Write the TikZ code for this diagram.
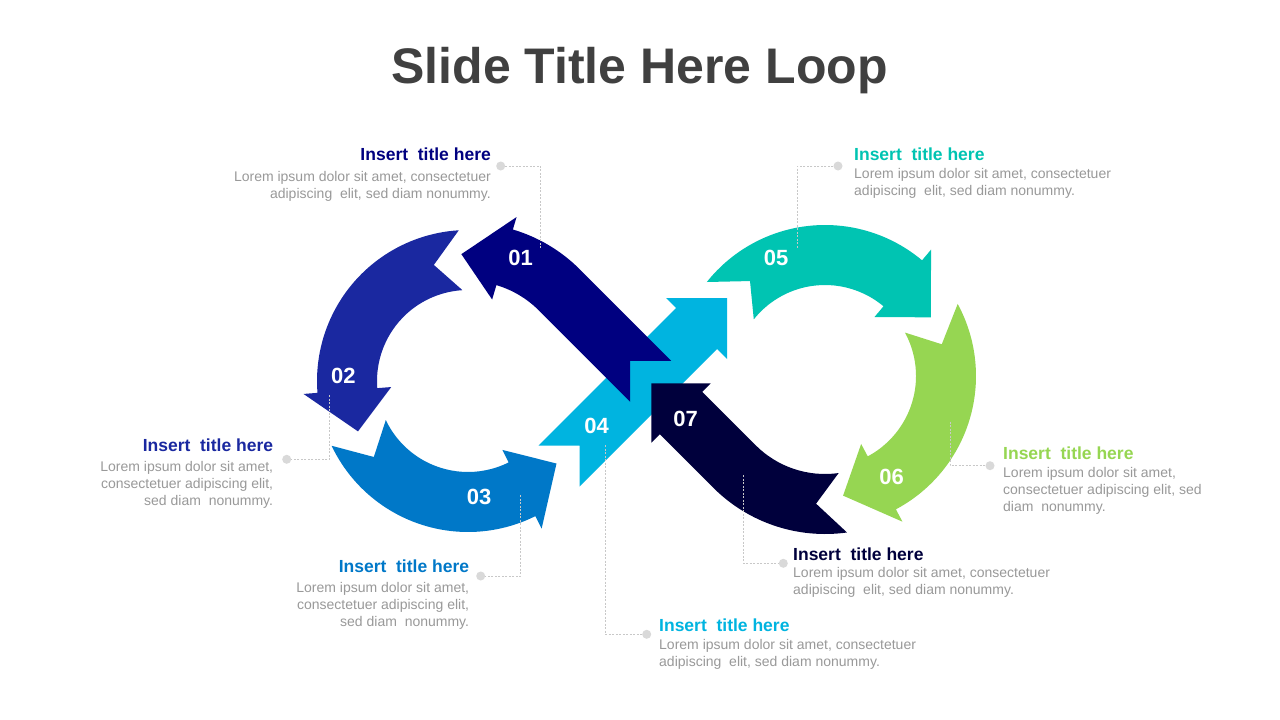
\documentclass[tikz,border=0pt]{standalone}
\usepackage{fontspec}
\setmainfont{Liberation Sans}
\definecolor{cA}{HTML}{000080}
\definecolor{cB}{HTML}{1A28A0}
\definecolor{cC}{HTML}{0078C8}
\definecolor{cD}{HTML}{00B4E0}
\definecolor{cE}{HTML}{00C4B2}
\definecolor{cF}{HTML}{96D652}
\definecolor{cG}{HTML}{00003C}
\definecolor{titlegray}{HTML}{404040}
\definecolor{bodygray}{HTML}{999999}
\definecolor{linegray}{HTML}{C8C8C8}
\definecolor{dotgray}{HTML}{D9D9D9}
% #1 colour, #2 r inner, #3 r outer, #4 tail angle, #5 notch angle, #6 head base angle, #7 tip angle
\newcommand{\ringarrow}[7]{%
  \pgfmathsetmacro\rmidval{(#2+#3)/2}%
  \pgfmathsetmacro\rbinval{#2-14}%
  \pgfmathsetmacro\rboutval{#3+14}%
  \fill[#1] (#4:#3) arc[start angle=#4, end angle=#6, radius=#3]
    -- (#6:\rboutval) -- (#7:\rmidval) -- (#6:\rbinval) -- (#6:#2)
    arc[start angle=#6, end angle=#4, radius=#2] -- (#5:\rmidval) -- cycle;
}
\tikzset{
  conn/.style={draw=linegray, line width=0.8pt, dash pattern=on 2pt off 1.5pt},
  dotn/.style={circle, fill=dotgray, inner sep=0pt, minimum size=9pt},
  numlbl/.style={text=white, inner sep=0pt, font=\fontsize{22}{22}\selectfont\bfseries},
  ttl/.style={inner sep=0pt, font=\fontsize{17.5}{20}\selectfont\bfseries},
  bodyr/.style={inner sep=0pt, text=bodygray, font=\fontsize{14}{16.6}\selectfont, align=right, anchor=north east},
  bodyl/.style={inner sep=0pt, text=bodygray, font=\fontsize{14}{16.6}\selectfont, align=left, anchor=north west},
}
\begin{document}
\begin{tikzpicture}[x=1pt,y=1pt]
\useasboundingbox (0,0) rectangle (1280,-720);
\fill[white] (0,0) rectangle (1280,-720);

% title
\node[anchor=base, inner sep=0pt, text=titlegray, font=\fontsize{50}{56}\selectfont\bfseries] (title) at (639.5,-83.5) {Slide Title Here Loop};

% 04 straight arrow (drawn first)
\fill[cD] (538.5,-445.5) -- (676,-308) -- (666,-298) -- (727,-298) -- (727,-359)
  -- (717,-349) -- (579.5,-486.5) -- (579.5,-445.5) -- cycle;

% left loop
\begin{scope}[shift={(468,-381)}]
  \ringarrow{cB}{91}{151}{93.5}{106.4}{184.5}{204.6}
  \ringarrow{cC}{91}{151}{205.4}{218.9}{296.5}{317}
  % 01
  \fill[cA] (203.22,20.22) -- (45:158) arc[start angle=45, end angle=73.5, radius=158]
    -- (73.5:171) -- (93:127) -- (73.5:85) -- (73.5:100)
    arc[start angle=73.5, end angle=45, radius=100] -- (162.21,-20.79) -- (162.22,20.22) -- cycle;
\end{scope}

% right loop
\begin{scope}[shift={(825,-376)}]
  \ringarrow{cE}{91}{151}{141.5}{128.3}{50}{29}
  \ringarrow{cF}{91}{151}{28.5}{15.2}{-62}{-81.4}
  % 07
  \fill[cG] (-82:158) arc[start angle=-82, end angle=-135, radius=158]
    -- (-165.22,-58.22) -- (-173.71,-66.71) -- (-173.71,-7.31) -- (-114.31,-7.31)
    -- (-122.80,-15.80) -- (-135:98) arc[start angle=-135, end angle=-82, radius=98]
    -- (-94:128) -- cycle;
\end{scope}

% number labels
\node[numlbl] (n01) at (520.5,-258.3) {01};
\node[numlbl] (n02) at (343.3,-375.7) {02};
\node[numlbl] (n03) at (479,-497.3) {03};
\node[numlbl] (n04) at (596.7,-426) {04};
\node[numlbl] (n05) at (776,-258.3) {05};
\node[numlbl] (n06) at (891.7,-476.7) {06};
\node[numlbl] (n07) at (685.7,-419.3) {07};

% connector ends and dots
\coordinate (e01) at (540.5,-248);
\coordinate (e02) at (329.3,-395);
\coordinate (e03) at (520.7,-495);
\coordinate (e04) at (605.7,-445);
\coordinate (e05) at (797.3,-248);
\coordinate (e06) at (950,-421.7);
\coordinate (e07) at (743.3,-475);
\node[dotn] (d01) at (500.7,-166) {};
\node[dotn] (d02) at (286.7,-459.3) {};
\node[dotn] (d03) at (480.7,-576) {};
\node[dotn] (d04) at (646.7,-634.3) {};
\node[dotn] (d05) at (838,-166) {};
\node[dotn] (d06) at (990,-465.7) {};
\node[dotn] (d07) at (783.3,-563.3) {};
\draw[conn] (d01) -| (e01);
\draw[conn] (e02) |- (d02);
\draw[conn] (e03) |- (d03);
\draw[conn] (e04) |- (d04);
\draw[conn] (d05) -| (e05);
\draw[conn] (e06) |- (d06);
\draw[conn] (e07) |- (d07);

% text blocks
\node[ttl, text=cA, anchor=base east] (t01) at (491,-160) {Insert~ title here};
\node[bodyr] (b01) at (491,-171.5) {Lorem ipsum dolor sit amet, consectetuer\\adipiscing~ elit, sed diam nonummy.};

\node[ttl, text=cB, anchor=base east] (t02) at (273.3,-451.7) {Insert~ title here};
\node[bodyr] (b02) at (273.3,-461.5) {Lorem ipsum dolor sit amet,\\consectetuer adipiscing elit,\\sed diam~ nonummy.};

\node[ttl, text=cC, anchor=base east] (t03) at (469.3,-572.7) {Insert~ title here};
\node[bodyr] (b03) at (469.3,-582.5) {Lorem ipsum dolor sit amet,\\consectetuer adipiscing elit,\\sed diam~ nonummy.};

\node[ttl, text=cD, anchor=base west] (t04) at (659,-631) {Insert~ title here};
\node[bodyl] (b04) at (659,-639.1) {Lorem ipsum dolor sit amet, consectetuer\\adipiscing~ elit, sed diam nonummy.};

\node[ttl, text=cE, anchor=base west] (t05) at (854,-160) {Insert~ title here};
\node[bodyl] (b05) at (854,-168.5) {Lorem ipsum dolor sit amet, consectetuer\\adipiscing~ elit, sed diam nonummy.};

\node[ttl, text=cF, anchor=base west] (t06) at (1003,-459) {Insert~ title here};
\node[bodyl] (b06) at (1003,-467.5) {Lorem ipsum dolor sit amet,\\consectetuer adipiscing elit, sed\\diam~ nonummy.};

\node[ttl, text=cG, anchor=base west] (t07) at (793,-560) {Insert~ title here};
\node[bodyl] (b07) at (793,-567.5) {Lorem ipsum dolor sit amet, consectetuer\\adipiscing~ elit, sed diam nonummy.};
\end{tikzpicture}
\end{document}
